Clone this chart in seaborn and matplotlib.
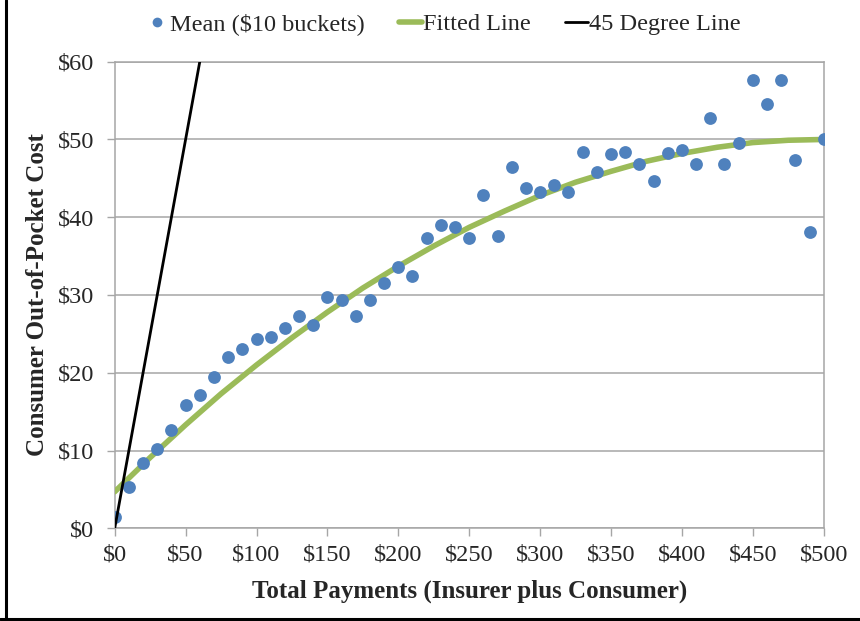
import numpy as np
import pandas as pd
import matplotlib
matplotlib.use("Agg")
import matplotlib.pyplot as plt
from matplotlib.lines import Line2D
import seaborn as sns

# Mean consumer out-of-pocket cost per $10 bucket of total payments
bucket_total = [0, 10, 20, 30, 40, 50, 60, 70, 80, 90,
                100, 110, 120, 130, 140, 150, 160, 170, 180, 190,
                200, 210, 220, 230, 240, 250, 260, 270, 280, 290,
                300, 310, 320, 330, 340, 350, 360, 370, 380, 390,
                400, 410, 420, 430, 440, 450, 460, 470, 480, 490, 500]
bucket_mean = [1.4, 5.3, 8.4, 10.2, 12.6, 15.8, 17.1, 19.5, 22.0, 23.1,
               24.3, 24.6, 25.8, 27.3, 26.2, 29.7, 29.4, 27.3, 29.4, 31.5,
               33.6, 32.4, 37.3, 39.0, 38.7, 37.3, 42.8, 37.6, 46.5, 43.8,
               43.2, 44.1, 43.3, 48.4, 45.8, 48.1, 48.4, 46.9, 44.7, 48.2,
               48.6, 46.9, 52.7, 46.9, 49.6, 57.7, 54.6, 57.7, 47.3, 38.1, 50.1]

# Fitted curve values
fit_total = [0, 25, 50, 75, 100, 125, 150, 175, 200, 225, 250,
             275, 300, 325, 350, 375, 400, 425, 450, 475, 500]
fit_cost = [4.7, 9.1, 13.3, 17.3, 21.0, 24.5, 27.8, 30.9, 33.7, 36.3, 38.7,
            40.8, 42.8, 44.5, 45.9, 47.2, 48.2, 49.0, 49.6, 49.9, 50.0]

# 45 degree reference line (cost equals total payments)
deg45_total = [0, 500]
deg45_cost = [0, 500]

x_ticks = [0, 50, 100, 150, 200, 250, 300, 350, 400, 450, 500]
x_tick_labels = ["$0", "$50", "$100", "$150", "$200", "$250",
                 "$300", "$350", "$400", "$450", "$500"]
y_ticks = [0, 10, 20, 30, 40, 50, 60]
y_tick_labels = ["$0", "$10", "$20", "$30", "$40", "$50", "$60"]

sns.set_theme(style="white")
plt.rcParams["font.family"] = ["Liberation Serif", "DejaVu Serif"]

BLUE = "#4F81BD"
GREEN = "#9BBB59"
GRID = "#A6A6A6"

fig = plt.figure(figsize=(8.6, 6.21), dpi=100)
ax = fig.add_axes([114.7 / 860, 1 - 528.3 / 621, 709 / 860, 466.6 / 621])

means = pd.DataFrame({"total": bucket_total, "cost": bucket_mean})
fitted = pd.DataFrame({"total": fit_total, "cost": fit_cost})
deg45 = pd.DataFrame({"total": deg45_total, "cost": deg45_cost})

sns.lineplot(data=fitted, x="total", y="cost", ax=ax, color=GREEN,
             linewidth=4.0, zorder=3, legend=False)
sns.scatterplot(data=means, x="total", y="cost", ax=ax, color=BLUE,
                s=85, linewidth=0, zorder=4, legend=False)
sns.lineplot(data=deg45, x="total", y="cost", ax=ax, color="black",
             linewidth=2.0, zorder=5, legend=False)

ax.set_xlim(0, 500)
ax.set_ylim(0, 60)
ax.set_xticks(x_ticks)
ax.set_xticklabels(x_tick_labels)
ax.set_yticks(y_ticks)
ax.set_yticklabels(y_tick_labels)
ax.grid(axis="y", color=GRID, linewidth=1.1)
ax.grid(axis="x", visible=False)
for side in ["left", "right", "top", "bottom"]:
    ax.spines[side].set_visible(True)
    ax.spines[side].set_color(GRID)
    ax.spines[side].set_linewidth(1.1)
ax.tick_params(axis="both", which="major", direction="out", length=6,
               width=1.0, color=GRID, labelsize=17.5,
               left=True, bottom=True)
ax.tick_params(axis="x", pad=6)
ax.tick_params(axis="y", pad=9)

ax.set_xlabel("Total Payments (Insurer plus Consumer)", fontsize=18,
              fontweight="bold", labelpad=10)
ax.set_ylabel("Consumer Out-of-Pocket Cost", fontsize=18,
              fontweight="bold", labelpad=6)

handles = [
    Line2D([], [], linestyle="none", marker="o", markersize=7,
           markerfacecolor=BLUE, markeredgewidth=0),
    Line2D([], [], color=GREEN, linewidth=4.0),
    Line2D([], [], color="black", linewidth=2.0),
]
labels = ["Mean ($10 buckets)", "Fitted Line", "45 Degree Line"]
fig.legend(handles, labels, loc="center", bbox_to_anchor=(443.5 / 860, 1 - 24 / 621),
           ncol=3, frameon=False, fontsize=17.5, handlelength=0.95,
           handletextpad=0.05, columnspacing=1.4, borderaxespad=0)

# Frame edges on the left and bottom of the figure
fig.add_artist(Line2D([6 / 860, 6 / 860], [0, 1], transform=fig.transFigure,
                      color="black", linewidth=2.2))
fig.add_artist(Line2D([0, 1], [1 - 618.5 / 621, 1 - 618.5 / 621],
                      transform=fig.transFigure, color="black", linewidth=2.2))

fig.savefig("out.png", dpi=100, facecolor="white")
